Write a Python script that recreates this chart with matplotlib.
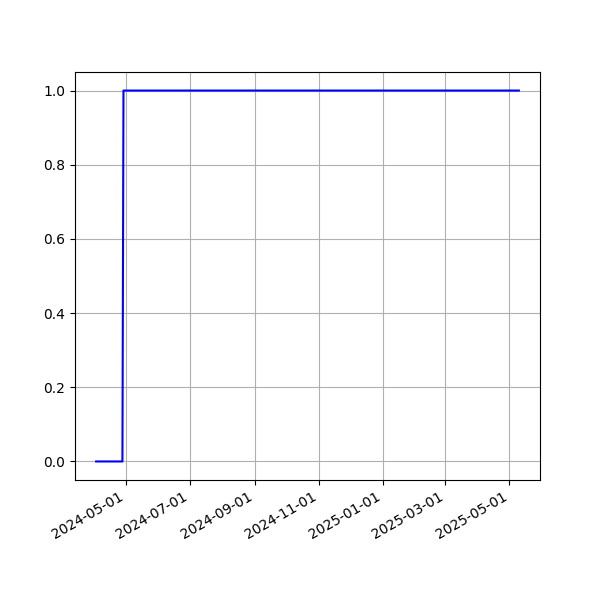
import pandas as pd
import matplotlib
matplotlib.use("Agg")
import matplotlib.pyplot as plt
import matplotlib.dates as mdates

dates = pd.to_datetime(["2024-04-03", "2024-04-28", "2024-04-29", "2025-05-10"])
values = [0, 0, 1, 1]

fig, ax = plt.subplots(figsize=(6, 6), dpi=100)
ax.plot(dates, values, color="blue")
ax.xaxis.set_major_locator(mdates.MonthLocator(bymonth=[1, 3, 5, 7, 9, 11]))
ax.xaxis.set_major_formatter(mdates.DateFormatter("%Y-%m-%d"))
ax.grid(True)
fig.autofmt_xdate()
plt.savefig("out.png")
